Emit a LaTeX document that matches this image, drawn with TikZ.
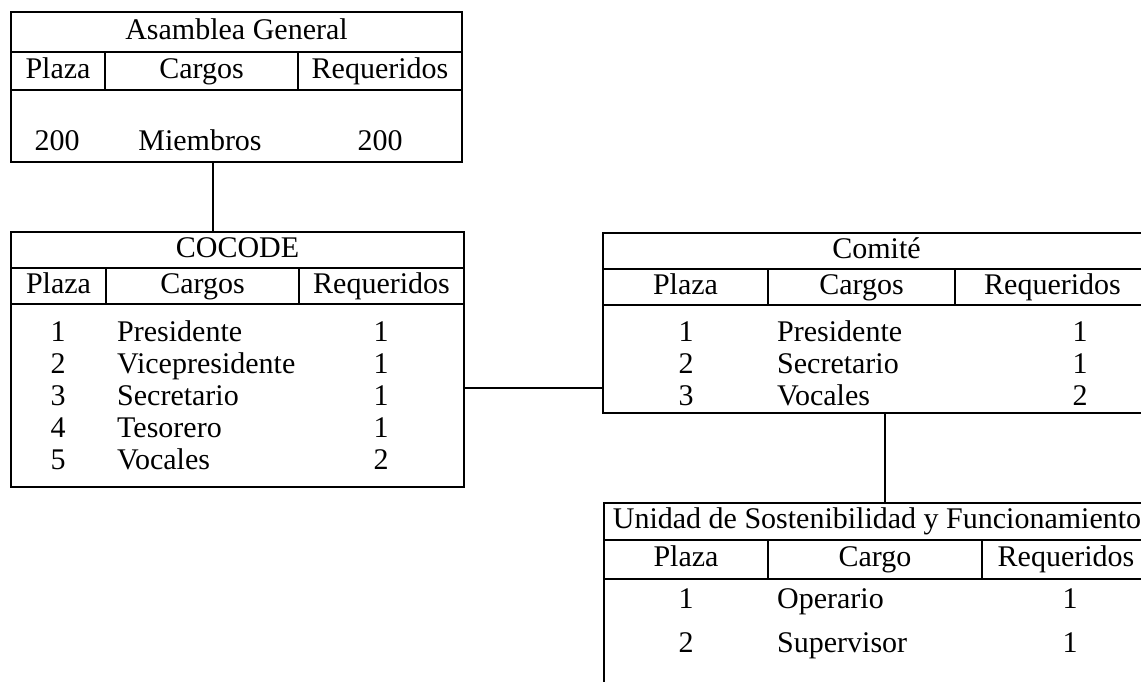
\documentclass[tikz,border=0pt]{standalone}
\usepackage{fontspec}
\setmainfont{Liberation Serif}
\usepackage{tikz}
\usetikzlibrary{positioning,calc}

\newcommand{\tabfont}{\fontsize{30}{36}\selectfont}

\begin{document}
\begin{tikzpicture}[x=1pt, y=-1pt,
    cell/.style={draw, line width=2pt, anchor=north west, inner sep=0pt, outer sep=0pt,
                 font=\tabfont, text height=20pt, text depth=6pt},
    lbl/.style={inner sep=0pt, font=\tabfont, text height=20pt, text depth=6pt},
    link/.style={line width=2pt}]

    \clip (0,0) rectangle (1141,681);

    % Asamblea General
    \node[cell, minimum width=451pt, minimum height=40pt] (asamT) at (11,12) {Asamblea General};
    \node[cell, minimum width=94pt, minimum height=38pt] (asamP) at (asamT.south west) {Plaza};
    \node[cell, minimum width=193pt, minimum height=38pt, right=0pt of asamP] (asamC) {Cargos};
    \node[cell, minimum width=164pt, minimum height=38pt, right=0pt of asamC] (asamR) {Requeridos};
    \node[cell, minimum width=451pt, minimum height=72pt] (asamB) at (asamP.south west) {};
    \node[lbl] (am1) at (57,143) {200};
    \node[lbl] (am2) at (200,143) {Miembros};
    \node[lbl] (am3) at (380,143) {200};

    % COCODE
    \node[cell, minimum width=453pt, minimum height=36pt] (cocT) at (11,232) {COCODE};
    \node[cell, minimum width=95pt, minimum height=36pt] (cocP) at (cocT.south west) {Plaza};
    \node[cell, minimum width=193pt, minimum height=36pt, right=0pt of cocP] (cocC) {Cargos};
    \node[cell, minimum width=165pt, minimum height=36pt, right=0pt of cocC] (cocR) {Requeridos};
    \node[cell, minimum width=453pt, minimum height=183pt] (cocB) at (cocP.south west) {};
    \foreach \n/\c/\r [count=\i] in {1/Presidente/1, 2/Vicepresidente/1,
        3/Secretario/1, 4/Tesorero/1, 5/Vocales/2} {
      \node[lbl] (cp\i) at (58,302+32*\i) {\n};
      \node[lbl, anchor=west] (cc\i) at (117,302+32*\i) {\c};
      \node[lbl] (cr\i) at (381,302+32*\i) {\r};
    }

    % Comite
    \node[cell, minimum width=547pt, minimum height=36pt] (comT) at (603,233) {Comité};
    \node[cell, minimum width=165pt, minimum height=36pt] (comP) at (comT.south west) {Plaza};
    \node[cell, minimum width=187pt, minimum height=36pt, right=0pt of comP] (comC) {Cargos};
    \node[cell, minimum width=195pt, minimum height=36pt, right=0pt of comC] (comR) {Requeridos};
    \node[cell, minimum width=547pt, minimum height=108pt] (comB) at (comP.south west) {};
    \foreach \n/\c/\r [count=\i] in {1/Presidente/1, 2/Secretario/1, 3/Vocales/2} {
      \node[lbl] (mp\i) at (686,302+32*\i) {\n};
      \node[lbl, anchor=west] (mc\i) at (777,302+32*\i) {\c};
      \node[lbl] (mr\i) at (1080,302+32*\i) {\r};
    }

    % Unidad de Sostenibilidad y Funcionamiento
    \node[cell, minimum width=546pt, minimum height=37pt] (uniT) at (604,503) {Unidad de Sostenibilidad y Funcionamiento};
    \node[cell, minimum width=164pt, minimum height=39pt] (uniP) at (uniT.south west) {Plaza};
    \node[cell, minimum width=214pt, minimum height=39pt, right=0pt of uniP] (uniC) {Cargo};
    \node[cell, minimum width=168pt, minimum height=39pt, right=0pt of uniC] (uniR) {Requeridos};
    \node[cell, minimum width=546pt, minimum height=150pt] (uniB) at (uniP.south west) {};
    \node[lbl] (up1) at (686,601) {1};
    \node[lbl, anchor=west] (uc1) at (777,601) {Operario};
    \node[lbl] (ur1) at (1070,601) {1};
    \node[lbl] (up2) at (686,645) {2};
    \node[lbl, anchor=west] (uc2) at (777,645) {Supervisor};
    \node[lbl] (ur2) at (1070,645) {1};

    % connectors
    \coordinate (k1) at ($(asamB.south west)!0.448!(asamB.south east)$);
    \draw[link] (k1) -- (k1 |- cocT.north);
    \coordinate (k2) at ($(cocB.east)+(0,-8)$);
    \draw[link] (k2) -- (k2 -| comB.west);
    \coordinate (k3) at ($(comB.south)+(8,0)$);
    \draw[link] (k3) -- (k3 |- uniT.north);
\end{tikzpicture}
\end{document}
